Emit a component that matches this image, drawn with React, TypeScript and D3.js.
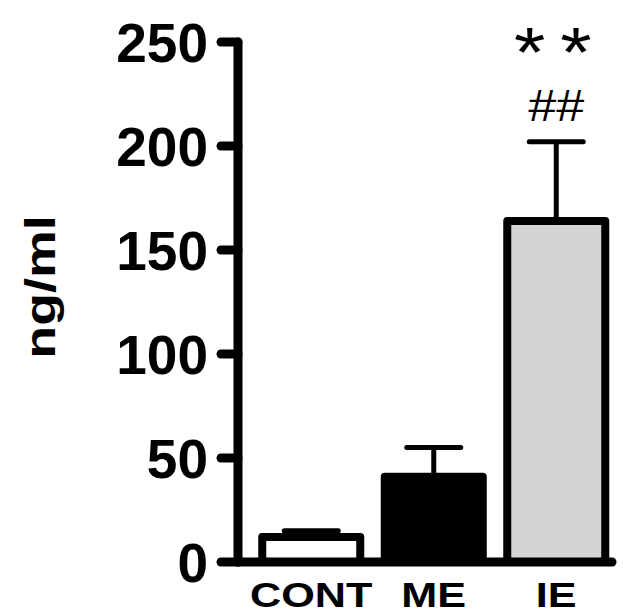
import React from 'react';
import * as d3 from 'd3';

// group means and SEM (ng/ml)
const groups = ['CONT', 'ME', 'IE'];
const means = [12, 41, 164];
const errors = [3, 14, 38];
const fills = ['#ffffff', '#000000', '#d4d4d4'];
const yTicks = [0, 50, 100, 150, 200, 250];
const sigMarks = ['', '', '##'];
const starMarks = ['', '', '**'];

const FONT = "'Liberation Sans', Arial, Helvetica, sans-serif";

export default function App() {
    const width = 623;
    const height = 614;

    // axis geometry
    const axisX = 238;
    const xEnd = 612;

    const y = d3.scaleLinear().domain([0, 250]).range([562, 42]);
    const x = d3.scaleBand<string>()
        .domain(groups)
        .range([250, 617.5])
        .paddingInner(0.2)
        .paddingOuter(0.1);

    return (
        <svg width={width} height={height} style={{ position: 'absolute', left: 0, top: 0 }}>
            <rect width={width} height={height} fill="#ffffff" />

            {/* bars */}
            {groups.map((g, i) => {
                const x0 = x(g) as number;
                const cx = x0 + x.bandwidth() / 2;
                const capHalf = 27;
                return (
                    <g key={g}>
                        <line x1={cx} x2={cx} y1={y(means[i])} y2={y(means[i] + errors[i])}
                            stroke="#000" strokeWidth={5} />
                        <line x1={cx - capHalf} x2={cx + capHalf}
                            y1={y(means[i] + errors[i])} y2={y(means[i] + errors[i])}
                            stroke="#000" strokeWidth={5} strokeLinecap="round" />
                        <rect x={x0} y={y(means[i])} width={x.bandwidth()} height={y(0) - y(means[i])}
                            fill={fills[i]} stroke="#000" strokeWidth={8} strokeLinejoin="round" />
                        {sigMarks[i] && (
                            <text transform={`translate(${cx},${y(means[i] + errors[i]) - 21}) scale(1.12,1)`}
                                textAnchor="middle" fontFamily={FONT} fontSize={45}>
                                {sigMarks[i]}
                            </text>
                        )}
                        {starMarks[i] && (
                            <text transform={`translate(${cx + 4},77) scale(1.15,1)`} textAnchor="middle"
                                fontFamily={FONT} fontSize={70} letterSpacing={13}>
                                {starMarks[i]}
                            </text>
                        )}
                        <text transform={`translate(${cx},607) scale(1.2,1)`} textAnchor="middle"
                            fontFamily={FONT} fontSize={36} fontWeight="bold">
                            {g}
                        </text>
                    </g>
                );
            })}

            {/* y axis */}
            <line x1={axisX} x2={axisX} y1={y(250)} y2={y(0)} stroke="#000" strokeWidth={9} strokeLinecap="round" />
            <line x1={axisX} x2={xEnd} y1={y(0)} y2={y(0)} stroke="#000" strokeWidth={9} strokeLinecap="round" />
            {yTicks.map(t => (
                <g key={t}>
                    <line x1={221} x2={axisX} y1={y(t)} y2={y(t)} stroke="#000" strokeWidth={9} strokeLinecap="round" />
                    <text x={208} y={y(t)} dy="0.36em" textAnchor="end" fontFamily={FONT}
                        fontSize={55} fontWeight="bold">
                        {t}
                    </text>
                </g>
            ))}

            {/* y axis title */}
            <text transform="translate(55,287) rotate(-90) scale(1.28,1)" textAnchor="middle"
                fontFamily={FONT} fontSize={42} fontWeight="bold">
                ng/ml
            </text>
        </svg>
    );
}
